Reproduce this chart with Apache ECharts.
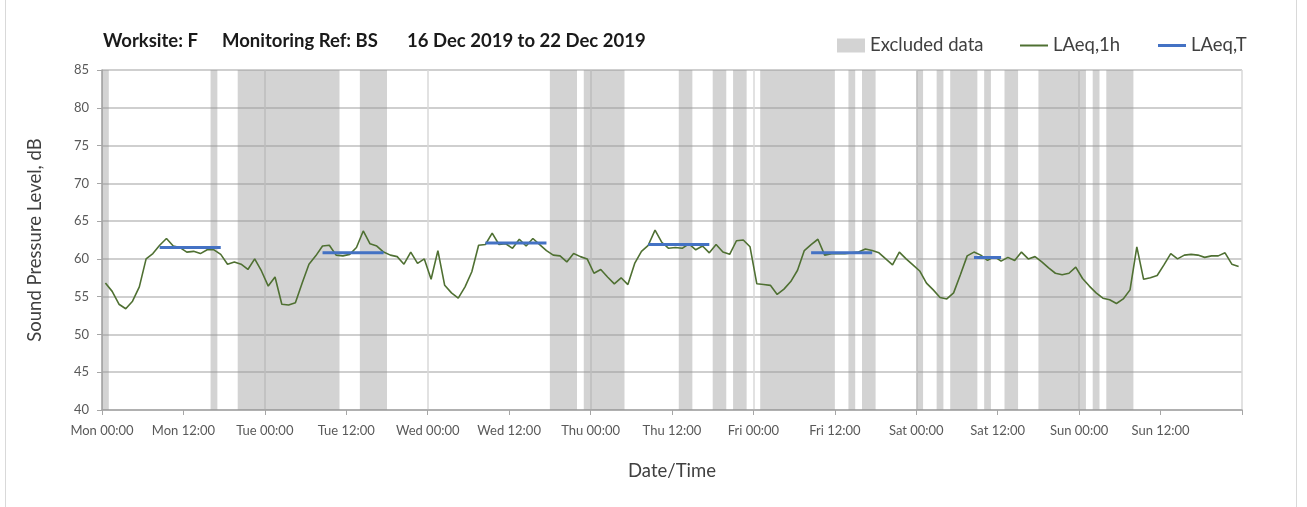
<!DOCTYPE html>
<html>
<head>
<meta charset="utf-8">
<script src="https://cdn.jsdelivr.net/npm/echarts@6/dist/echarts.min.js"></script>
<style>
html,body{margin:0;padding:0;background:#fff;}
#chart{position:absolute;left:0;top:0;width:1307px;height:507px;}
#frame{position:absolute;left:5px;top:0;width:1292px;height:507px;border-left:1px solid #d9d9d9;border-right:1px solid #d9d9d9;box-sizing:border-box;pointer-events:none;}
</style>
</head>
<body>
<div id="chart"></div>
<div id="frame"></div>
<script>
// Hourly LAeq,1h values, Mon 00:00 .. Sun 23:00 (one per hour)
const laeq1h = [
  56.8,55.7,54.0,53.4,54.4,56.3,60.0,60.7,61.8,62.7,61.7,61.5,60.9,61.0,60.7,61.2,61.2,60.6,59.3,59.6,59.3,58.6,60.0,58.4,
  56.4,57.6,54.0,53.9,54.2,56.8,59.3,60.4,61.7,61.8,60.5,60.4,60.6,61.5,63.7,62.0,61.7,60.9,60.5,60.3,59.3,60.9,59.4,60.0,
  57.3,61.1,56.5,55.5,54.8,56.3,58.3,61.8,61.9,63.4,61.9,62.0,61.4,62.6,61.7,62.7,61.9,61.1,60.5,60.4,59.6,60.7,60.3,60.0,
  58.1,58.6,57.6,56.7,57.5,56.6,59.4,61.0,61.8,63.8,62.2,61.4,61.5,61.4,62.0,61.2,61.7,60.8,61.9,60.9,60.6,62.4,62.5,61.6,
  56.7,56.6,56.5,55.3,56.0,57.0,58.5,61.1,61.9,62.6,60.5,60.7,60.7,60.7,60.8,60.9,61.3,61.1,60.8,60.0,59.2,60.9,60.0,59.2,
  58.4,56.8,55.9,54.9,54.7,55.5,57.9,60.4,60.9,60.5,59.8,60.3,59.7,60.2,59.8,60.9,60.0,60.3,59.6,58.8,58.1,57.9,58.1,58.9,
  57.4,56.4,55.5,54.8,54.6,54.1,54.7,55.9,61.6,57.3,57.5,57.8,59.2,60.7,60.0,60.5,60.6,60.5,60.2,60.4,60.4,60.8,59.3,59.0
];
// LAeq,T periods (hour index of first and last hourly value) and levels
const laeqTStart = [8, 32, 56, 80, 104, 128];
const laeqTEnd   = [17, 41, 65, 89, 113, 132];
const laeqTValue = [61.5, 60.8, 62.1, 61.9, 60.8, 60.2];
// Excluded data periods (hours from Mon 00:00)
const excludedStart = [0,16,20,38,66,71,85,90,93,97,110,112,120,123,125,130,133,138,146,148];
const excludedEnd   = [1,17,35,42,70,77,87,92,95,108,111,114,121,124,129,131,135,145,147,152];
// Tick labels
const dayNames = ['Mon','Tue','Wed','Thu','Fri','Sat','Sun'];
const timeNames = ['00:00','12:00'];

const lineData = laeq1h.map((v, i) => [i + 0.5, v]);
const tData = [];
laeqTStart.forEach((s, k) => {
  for (let h = s; h <= laeqTEnd[k]; h++) tData.push([h + 0.5, laeqTValue[k]]);
  tData.push([laeqTEnd[k] + 1, null]);
});
const bandData = excludedStart.map((s, k) => [s, excludedEnd[k]]);

const FONT = 'Lato';
const legendText = {fontSize: 18.5, color: '#404040', fontFamily: FONT};
const legendBase = {top: 31, itemWidth: 28, itemHeight: 14, textStyle: legendText, itemGap: 4, selectedMode: false};
const chart = echarts.init(document.getElementById('chart'), null, {renderer: 'canvas'});
chart.setOption({
  animation: false,
  textStyle: {fontFamily: FONT},
  grid: {left: 102, right: 65, top: 70, bottom: 97},
  graphic: [
    {type: 'text', left: 103, top: 32, style: {text: 'Worksite: F', font: 'bold 18.5px Lato', fill: '#1a1a1a'}},
    {type: 'text', left: 222, top: 32, style: {text: 'Monitoring Ref: BS', font: 'bold 18.5px Lato', fill: '#1a1a1a'}},
    {type: 'text', left: 407, top: 32, style: {text: '16 Dec 2019 to 22 Dec 2019', font: 'bold 18.5px Lato', fill: '#1a1a1a'}}
  ],
  legend: [
    Object.assign({left: 832, data: [{name: 'Excluded data', icon: 'rect'}]}, legendBase),
    Object.assign({left: 1015, data: [{name: 'LAeq,1h', icon: 'path://M0,0H28V2H0Z'}]}, legendBase),
    Object.assign({left: 1153, data: [{name: 'LAeq,T', icon: 'path://M0,0H28V3H0Z'}]}, legendBase)
  ],
  xAxis: [{
    type: 'value', min: 0, max: 168, interval: 12,
    name: 'Date/Time', nameLocation: 'middle', nameGap: 52,
    nameTextStyle: {fontSize: 18.5, color: '#404040', fontFamily: FONT},
    axisLine: {lineStyle: {color: '#a6a6a6', width: 1.5}},
    axisTick: {show: true, length: 5, lineStyle: {color: '#a6a6a6'}},
    axisLabel: {
      fontSize: 13, color: '#595959', margin: 14, fontFamily: FONT,
      formatter: v => v >= 168 ? '' : dayNames[Math.floor(v / 24)] + ' ' + timeNames[(v % 24) / 12]
    },
    splitLine: {show: false}
  }, {
    type: 'value', min: 0, max: 168, interval: 24, position: 'bottom',
    axisLine: {show: false}, axisTick: {show: false}, axisLabel: {show: false},
    splitLine: {show: true, lineStyle: {color: '#d9d9d9', width: 1.5}}
  }],
  yAxis: {
    type: 'value', min: 40, max: 85, interval: 5,
    name: 'Sound Pressure Level, dB', nameLocation: 'middle', nameGap: 57,
    nameTextStyle: {fontSize: 18.5, color: '#404040', fontFamily: FONT},
    axisLine: {show: true, lineStyle: {color: '#a6a6a6', width: 1.5}},
    axisTick: {show: true, length: 5, lineStyle: {color: '#a6a6a6'}},
    axisLabel: {fontSize: 13, color: '#595959', margin: 13, fontFamily: FONT},
    splitLine: {lineStyle: {color: '#cfcfcf', width: 2}}
  },
  series: [{
    name: 'Excluded data', type: 'custom', z: 1,
    itemStyle: {color: 'rgba(150,150,150,0.42)'},
    encode: {x: [0, 1]},
    data: bandData,
    renderItem: (params, api) => {
      const p0 = api.coord([api.value(0), 85]);
      const p1 = api.coord([api.value(1), 40]);
      return {type: 'rect', shape: {x: p0[0], y: p0[1], width: p1[0] - p0[0], height: p1[1] - p0[1]},
              style: {fill: 'rgba(150,150,150,0.42)'}};
    }
  }, {
    name: 'LAeq,1h', type: 'line', z: 3, symbol: 'none',
    lineStyle: {color: '#4f7032', width: 1.6}, itemStyle: {color: '#4f7032'},
    data: lineData
  }, {
    name: 'LAeq,T', type: 'line', z: 4, symbol: 'none', connectNulls: false,
    lineStyle: {color: '#4472c4', width: 3}, itemStyle: {color: '#4472c4'},
    data: tData
  }]
});
</script>
</body>
</html>
